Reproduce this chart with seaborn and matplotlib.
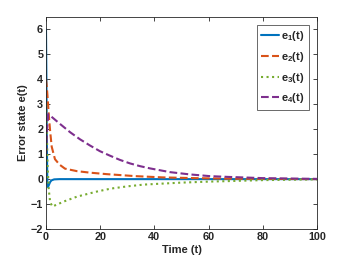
import numpy as np
import pandas as pd
import seaborn as sns
import matplotlib
import matplotlib.pyplot as plt

# valores
t1 = [0, 0.15, 0.3, 0.5, 0.7, 1.0, 1.5, 2, 3, 5, 100]
e1 = [6, 4, 1.5, -0.2, -0.32, -0.25, -0.12, -0.05, -0.01, 0, 0]

t2 = [0, 0.3, 0.7, 1.0, 1.5, 2.1, 3.3, 5, 7, 11.4, 16.2, 22.4, 33, 43, 55, 70, 100]
e2 = [4.0, 3.7, 3.1, 2.6, 1.95, 1.3, 0.8, 0.58, 0.42, 0.32, 0.26, 0.2, 0.12, 0.07, 0.04, 0.015, 0]

t3 = [0, 0.3, 0.6, 1.0, 1.5, 2.3, 4, 7, 11.5, 18.7, 23.9, 30, 36, 41, 50, 60, 67, 80, 100]
e3 = [3.0, 1.8, 0.5, -0.4, -0.9, -1.1, -1.02, -0.88, -0.7, -0.5, -0.38, -0.29, -0.22, -0.19,
      -0.14, -0.1, -0.08, -0.04, -0.01]

t4 = [0, 0.4, 0.8, 1.5, 5.2, 8.9, 12.5, 16.2, 19.9, 23.6, 27.3, 31, 34.7, 38.4, 45.8, 53,
      60.5, 67, 80, 100]
e4 = [1.0, 2.0, 2.6, 2.55, 2.21, 1.88, 1.6, 1.35, 1.12, 0.94, 0.77, 0.63, 0.52, 0.43, 0.28,
      0.19, 0.12, 0.09, 0.04, 0.01]

labels = ['e$_1$(t)', 'e$_2$(t)', 'e$_3$(t)', 'e$_4$(t)']
cores = ['#0072BD', '#D95319', '#77AC30', '#7E2F8E']
estilos = ['-', '--', ':', '--']

sns.set_style('ticks')
plt.rcParams['font.family'] = ['Liberation Sans', 'DejaVu Sans']
plt.rcParams['font.weight'] = 'bold'
plt.rcParams['mathtext.fontset'] = 'custom'
plt.rcParams['mathtext.rm'] = 'Liberation Sans:bold'
plt.rcParams['mathtext.bf'] = 'Liberation Sans:bold'
plt.rcParams['mathtext.default'] = 'bf'

fig = plt.figure(figsize=(3.47, 2.65), dpi=100)
ax = fig.add_axes([0.1326, 0.1358, 0.781, 0.80])

series = [(t1, e1), (t2, e2), (t3, e3), (t4, e4)]
for i, (t, e) in enumerate(series):
    sns.lineplot(x=t, y=e, ax=ax, color=cores[i], linestyle=estilos[i],
                 linewidth=1.5, label=labels[i])

ax.set_xlim(0, 100)
ax.set_ylim(-2, 6.5)
ax.set_xticks([0, 20, 40, 60, 80, 100])
ax.set_yticks([-2, -1, 0, 1, 2, 3, 4, 5, 6])
ax.tick_params(direction='in', top=True, right=True, labelsize=7.8, length=3,
               width=0.6, colors='#262626', pad=2)
for s in ax.spines.values():
    s.set_visible(True)
    s.set_linewidth(0.6)
    s.set_color('#262626')
ax.set_xlabel('Time (t)', fontsize=8, fontweight='bold', labelpad=2)
ax.set_ylabel('Error state e(t)', fontsize=8, fontweight='bold', labelpad=2)

leg = ax.legend(loc='upper right', fontsize=8, frameon=True, fancybox=False,
                handlelength=1.6, handletextpad=0.2, labelspacing=0.6,
                borderpad=0.4, borderaxespad=0.7)
leg.get_frame().set_edgecolor('#262626')
leg.get_frame().set_linewidth(0.6)

fig.savefig('out.png', dpi=100)
